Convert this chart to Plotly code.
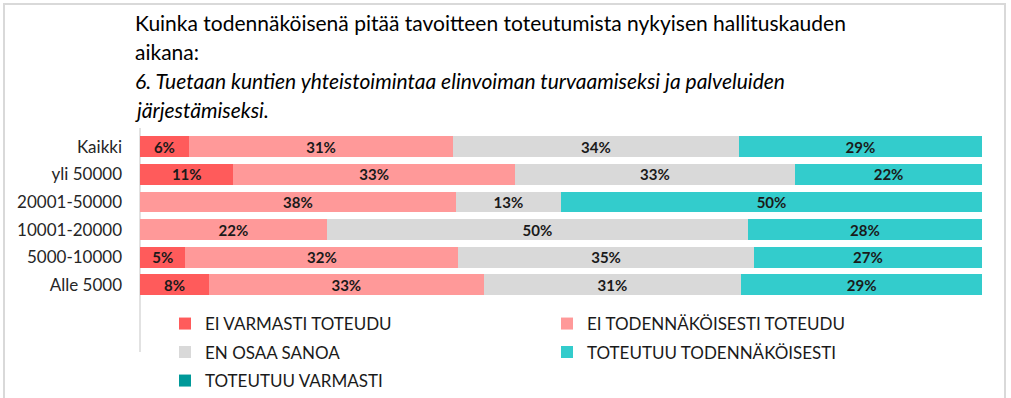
import math
import plotly.graph_objects as go

categories = ["Kaikki", "yli 50000", "20001-50000", "10001-20000", "5000-10000", "Alle 5000"]
series_names = ["EI VARMASTI TOTEUDU", "EI TODENNÄKÖISESTI TOTEUDU", "EN OSAA SANOA",
                "TOTEUTUU TODENNÄKÖISESTI", "TOTEUTUU VARMASTI"]
ei_varmasti = [5.8, 11.1, 0.0, 0.0, 5.4, 8.2]
ei_todennakoisesti = [31.4, 33.4, 37.5, 22.2, 32.4, 32.6]
en_osaa = [33.9, 33.3, 12.5, 50.0, 35.1, 30.6]
toteutuu_tod = [28.9, 22.2, 50.0, 27.8, 27.1, 28.6]
toteutuu_varmasti = [0.0, 0.0, 0.0, 0.0, 0.0, 0.0]
colors = ["#FF5B5B", "#FF9999", "#D9D9D9", "#33CCCC", "#009999"]
legend_rows = ["legend", "legend", "legend2", "legend2", "legend3"]

title_lines = [
    ("Kuinka todennäköisenä pitää tavoitteen toteutumista nykyisen hallituskauden", False),
    ("aikana:", False),
    ("6. Tuetaan kuntien yhteistoimintaa elinvoiman turvaamiseksi ja palveluiden", True),
    ("järjestämiseksi.", True),
]

FONT = "Lato"
W, H = 1011, 398
L, R = 140, 982
T, B = 133, 398
ROW = 27.6  # pixels per category


def px_x(px):
    return (px - L) / (R - L)


def px_y(py):
    return (B - py) / (B - T)


def label(v):
    return f"{math.floor(v + 0.5)}%" if v > 0 else ""


fig = go.Figure()
all_series = [ei_varmasti, ei_todennakoisesti, en_osaa, toteutuu_tod, toteutuu_varmasti]
for name, vals, col, lg in zip(series_names, all_series, colors, legend_rows):
    fig.add_trace(go.Bar(
        y=categories, x=vals, name=name, orientation="h", legend=lg,
        marker=dict(color=col, line=dict(width=0)),
        text=[label(v) for v in vals], textposition="inside",
        insidetextanchor="middle", textangle=0, constraintext="none",
        textfont=dict(family=FONT, size=15, color="#1a1a1a", weight="bold"),
        hoverinfo="skip",
    ))

for i, (txt, it) in enumerate(title_lines):
    t = f"<i>{txt}</i>" if it else txt
    fig.add_annotation(
        text=t, xref="paper", yref="paper", x=px_x(133), y=px_y(22 + i * 29),
        xanchor="left", yanchor="middle", showarrow=False,
        font=dict(family=FONT, size=21, color="#000000"),
    )

fig.add_shape(type="rect", xref="paper", yref="paper",
              x0=px_x(4), x1=px_x(1005), y0=px_y(420), y1=px_y(4),
              line=dict(color="#D9D9D9", width=2), layer="below")
fig.add_shape(type="line", xref="paper", yref="paper",
              x0=0, x1=0, y0=px_y(352), y1=px_y(128),
              line=dict(color="#D9D9D9", width=1.5), layer="below")

leg_common = dict(orientation="h", xanchor="left", yanchor="middle",
                  entrywidth=337, entrywidthmode="pixels", traceorder="normal",
                  font=dict(family=FONT, size=17, color="#1a1a1a"),
                  bgcolor="rgba(0,0,0,0)")

span = (B - T) / ROW
fig.update_layout(
    width=W, height=H,
    margin=dict(l=L, r=W - R, t=T, b=H - B, pad=0, autoexpand=False),
    barmode="stack", bargap=0.24,
    plot_bgcolor="white", paper_bgcolor="white",
    showlegend=True,
    legend=dict(x=px_x(165), y=px_y(324), **leg_common),
    legend2=dict(x=px_x(165), y=px_y(352.5), **leg_common),
    legend3=dict(x=px_x(165), y=px_y(381), **leg_common),
    xaxis=dict(range=[0, 100], visible=False, fixedrange=True),
    yaxis=dict(type="category", categoryorder="array", categoryarray=categories,
               autorange=False, range=[span - 0.5, -0.5], fixedrange=True,
               showgrid=False, showline=False, zeroline=False, ticks="", ticklabelstandoff=17,
               tickfont=dict(family=FONT, size=17, color="#262626")),
)

fig.write_html("out.html", config={"displayModeBar": False},
               post_script="document.body.style.margin='0';")
